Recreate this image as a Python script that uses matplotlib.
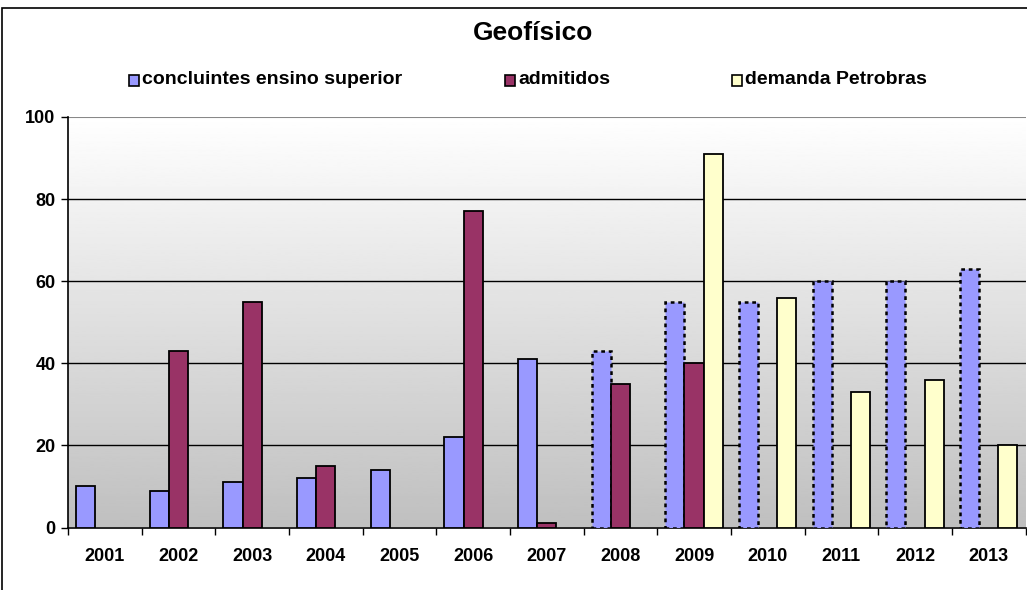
import numpy as np
import matplotlib.pyplot as plt
from matplotlib.patches import Rectangle

plt.rcParams['font.family'] = ['Liberation Sans', 'DejaVu Sans']

# ---- DATA ----
years = ["2001", "2002", "2003", "2004", "2005", "2006", "2007",
         "2008", "2009", "2010", "2011", "2012", "2013"]
concluintes = [10, 9, 11, 12, 14, 22, 41, 43, 55, 55, 60, 60, 63]
admitidos = [0, 43, 55, 15, 0, 77, 1, 35, 40, 0, 0, 0, 0]
demanda = [0, 0, 0, 0, 0, 0, 0, 0, 91, 56, 33, 36, 20]
projetado_desde = "2008"   # concluintes dashed from here on

labels = ["concluintes ensino superior", "admitidos", "demanda Petrobras"]
colors = ["#9999FF", "#993366", "#FFFFCC"]

# ---- FIGURE ----
fig = plt.figure(figsize=(10.27, 5.90), dpi=100)
fig.patch.set_facecolor("white")

# outer chart border
fig.patches.append(Rectangle((1.5 / 1027, -0.05), 1.2, 1 - 7.5 / 590 + 0.05,
                             transform=fig.transFigure, fill=False,
                             edgecolor="black", lw=1.2))

ax = fig.add_axes([68 / 1027, 1 - 527.5 / 590, 957.5 / 1027, (527.5 - 117) / 590])

# gradient background
grad = np.linspace(0.75, 1.0, 256).reshape(-1, 1)
ax.imshow(grad, cmap="gray", vmin=0, vmax=1, aspect="auto",
          extent=[-0.5, len(years) - 0.5, 0, 100], origin="lower", zorder=0)

x = np.arange(len(years))
w = 0.26
proj = years.index(projetado_desde)

for i in range(len(years)):
    if concluintes[i]:
        dashed = i >= proj
        ax.bar(x[i] - w, concluintes[i], w, color=colors[0], edgecolor="black",
               lw=1.8 if dashed else 1.3, linestyle=(0, (1.5, 1.5)) if dashed else "-",
               zorder=3)
    if admitidos[i]:
        ax.bar(x[i], admitidos[i], w, color=colors[1], edgecolor="black", lw=1.3, zorder=3)
    if demanda[i]:
        ax.bar(x[i] + w, demanda[i], w, color=colors[2], edgecolor="black", lw=1.3, zorder=3)

ax.set_xlim(-0.5, len(years) - 0.5)
ax.set_ylim(0, 100)
ax.set_yticks([0, 20, 40, 60, 80, 100])
for v in [20, 40, 60, 80]:
    ax.axhline(v, color="black", lw=1, zorder=1)
ax.axhline(100, color="#888888", lw=1.5, zorder=1)

ax.set_xticks(x)
ax.set_xticklabels(years, fontsize=13, fontweight="bold")
ax.set_xticks(np.arange(len(years) + 1) - 0.5, minor=True)
ax.tick_params(axis="x", which="major", length=0, pad=15)
ax.tick_params(axis="x", which="minor", length=5, width=1, direction="out")
ax.tick_params(axis="y", length=5, width=1, direction="out", labelsize=13, pad=4)
for t in ax.get_yticklabels():
    t.set_fontweight("bold")

for s in ["top", "right"]:
    ax.spines[s].set_visible(False)
ax.spines["left"].set_linewidth(1.2)
ax.spines["bottom"].set_linewidth(1.2)

# title
fig.text(533 / 1027, 1 - 33 / 590, "Geofísico", ha="center", va="center",
         fontsize=19, fontweight="bold")

# legend
leg_x = [129, 505, 732]
for lx, lab, c in zip(leg_x, labels, colors):
    fig.patches.append(Rectangle((lx / 1027, 1 - 86 / 590), 10 / 1027, 11 / 590,
                                 transform=fig.transFigure, facecolor=c,
                                 edgecolor="black", lw=1.2))
    fig.text((lx + 13) / 1027, 1 - 80 / 590, lab, ha="left", va="center",
             fontsize=14, fontweight="bold")

fig.savefig("out.png", dpi=100)
